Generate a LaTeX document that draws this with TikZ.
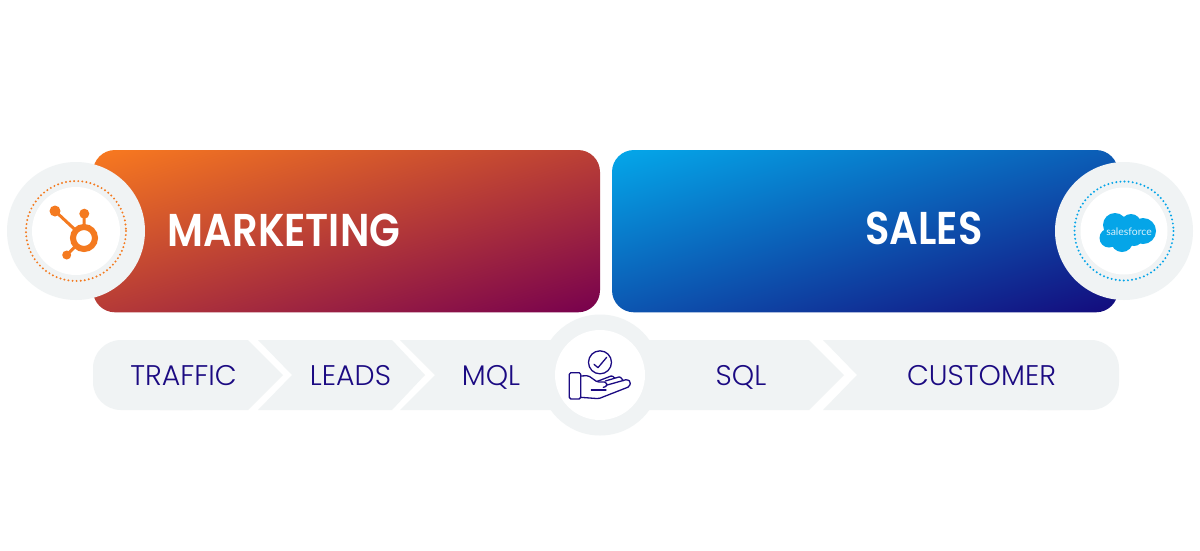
\documentclass[tikz,border=0pt]{standalone}
\usepackage{fontspec}
\setmainfont{Open Sans}
\newfontfamily\stagefont[UprightFont=* Light]{Poppins}
\newfontfamily\titlefont[UprightFont=* SemiBold,FakeStretch=0.87]{Poppins}
\newfontfamily\logofont{Lato}
\definecolor{ringgray}{HTML}{F0F3F4}
\definecolor{inkblue}{HTML}{1B0A82}
\definecolor{hsorange}{HTML}{F47A20}
\definecolor{sfblue}{HTML}{05A5E8}
\definecolor{mkstart}{HTML}{F97A1F}
\definecolor{mkend}{HTML}{77004E}
\definecolor{slstart}{HTML}{04A8EA}
\definecolor{slend}{HTML}{140A7C}
\pgfdeclareverticalshading{mkgrad}{800bp}{color(0bp)=(mkend); color(300bp)=(mkstart)}
\pgfdeclareverticalshading{slgrad}{800bp}{color(0bp)=(slend); color(300bp)=(slstart)}
\tikzset{
  stagefill/.style={fill=ringgray,draw=none},
  stagelabel/.style={text=inkblue,font=\stagefont\fontsize{28.4}{28}\selectfont,inner sep=0pt,anchor=base},
  titlelabel/.style={text=white,font=\titlefont\fontsize{46}{46}\selectfont,inner sep=0pt,anchor=base},
  ringdisc/.style={fill=ringgray,draw=none},
  innerdisc/.style={fill=white,draw=none},
  handline/.style={draw=inkblue,line width=1.3pt,line join=round,line cap=round},
  hubline/.style={draw=hsorange,line width=3pt},
  dotring/.style={line width=2.2pt,line cap=round,dash pattern=on 0pt off 4.1pt}
}
\begin{document}
\begin{tikzpicture}[x=1pt,y=-1pt]
\useasboundingbox (0,0) rectangle (1200,550);
\fill[white] (0,0) rectangle (1200,550);
% banners
\begin{scope}
\clip[rounded corners=22pt] (93,150) rectangle (600,312.3);
\begin{pgflowlevelscope}{\pgftransformshift{\pgfpoint{346.5pt}{-231pt}}\pgftransformrotate{16.6}}
\pgfuseshading{mkgrad}
\end{pgflowlevelscope}
\end{scope}
\begin{scope}
\clip[rounded corners=22pt] (612,150) rectangle (1118,312.3);
\begin{pgflowlevelscope}{\pgftransformshift{\pgfpoint{865pt}{-231pt}}\pgftransformrotate{16.6}}
\pgfuseshading{slgrad}
\end{pgflowlevelscope}
\end{scope}
% stages
\fill[stagefill,rounded corners=28pt] (220,340) -- (93,340) -- (93,410) -- (220,410) -- cycle;
\fill[stagefill] (160,340) -- (248,340) -- (283,375) -- (248,410) -- (160,410) -- cycle;
\fill[stagefill] (258,340) -- (392,340) -- (425,375) -- (392,410) -- (258,410) -- (292,375) -- cycle;
\fill[stagefill] (400,340) -- (600,340) -- (600,410) -- (400,410) -- (435,375) -- cycle;
\fill[stagefill] (600,340) -- (809,340) -- (844,375) -- (809,410) -- (600,410) -- cycle;
\fill[stagefill] (823,340) -- (1060,340) -- (1060,410) -- (823,410) -- (857,375) -- cycle;
\fill[stagefill,rounded corners=28pt] (1000,340) -- (1119,340) -- (1119,410) -- (1000,410) -- cycle;
% centre badge
\fill[ringdisc] (600,375) circle[radius=60.5];
\fill[innerdisc] (600,375) circle[radius=45];
% left badge
\fill[ringdisc] (76,231) circle[radius=69];
\fill[innerdisc] (76,231) circle[radius=44];
\draw[hsorange,dotring] (76,231) circle[radius=50];
% right badge
\fill[ringdisc] (1124,231) circle[radius=69];
\fill[innerdisc] (1124,231) circle[radius=43.5];
\draw[sfblue,dotring] (1124,231) circle[radius=49.5];
% HubSpot mark
\draw[hubline] (55,211) -- (84,238);
\draw[hubline] (84.3,213.7) -- (84,238);
\draw[hubline] (66.7,255) -- (84,238);
\fill[hsorange] (55,211) circle[radius=5.5];
\fill[hsorange] (84.3,213.7) circle[radius=5];
\fill[hsorange] (66.7,255) circle[radius=4.5];
\fill[innerdisc] (84,238) circle[radius=9];
\draw[hsorange,line width=6pt] (84,238) circle[radius=11];
% Salesforce mark
\fill[sfblue] (1115,225) circle[radius=12] (1131,224) circle[radius=10] (1143,231) circle[radius=13] (1109,238) circle[radius=9.5] (1122,241) circle[radius=11] (1134,237) circle[radius=9];
\node (sf) at (1129,231.5) [text=white!85!sfblue,font=\logofont\fontsize{10.4}{10}\selectfont,inner sep=0pt] {salesforce};
% hand icon
\begin{scope}[shift={(520,310)},x=0.3333pt,y=-0.3333pt]
\draw[handline] (240,157) circle[radius=11.5pt];
\draw[handline] (222,163) -- (234,173) -- (260,142);
\draw[handline,rounded corners=1.5pt] (182,188) -- (148,188) -- (148,267) -- (182,267) -- cycle;
\draw[handline,rounded corners=1.5pt] (182,198) -- (205,197) -- (232,216) -- (258,216) -- (262,228) -- (250,232);
\draw[handline] (214,240) -- (258,240);
\draw[handline,rounded corners=1.5pt] (182,262) -- (236,266) -- (328,230) -- (332,216) -- (322,208) -- (258,226);
\draw[handline,rounded corners=1pt] (232,214) -- (276,197) -- (284,204);
\draw[handline,rounded corners=1pt] (256,213) -- (300,200) -- (310,212);
\end{scope}
% labels
\node[titlelabel] (marketing) at (284,246.5) {MARKETING};
\node[titlelabel] (sales) at (924,244.5) {SALES};
\node[stagelabel] (traffic) at (183.5,385) {TRAFFIC};
\node[stagelabel] (leads) at (350.5,385) {LEADS};
\node[stagelabel] (mql) at (491,385) {MQL};
\node[stagelabel] (sql) at (741,385) {SQL};
\node[stagelabel] (customer) at (981.5,385) {CUSTOMER};
\end{tikzpicture}
\end{document}
